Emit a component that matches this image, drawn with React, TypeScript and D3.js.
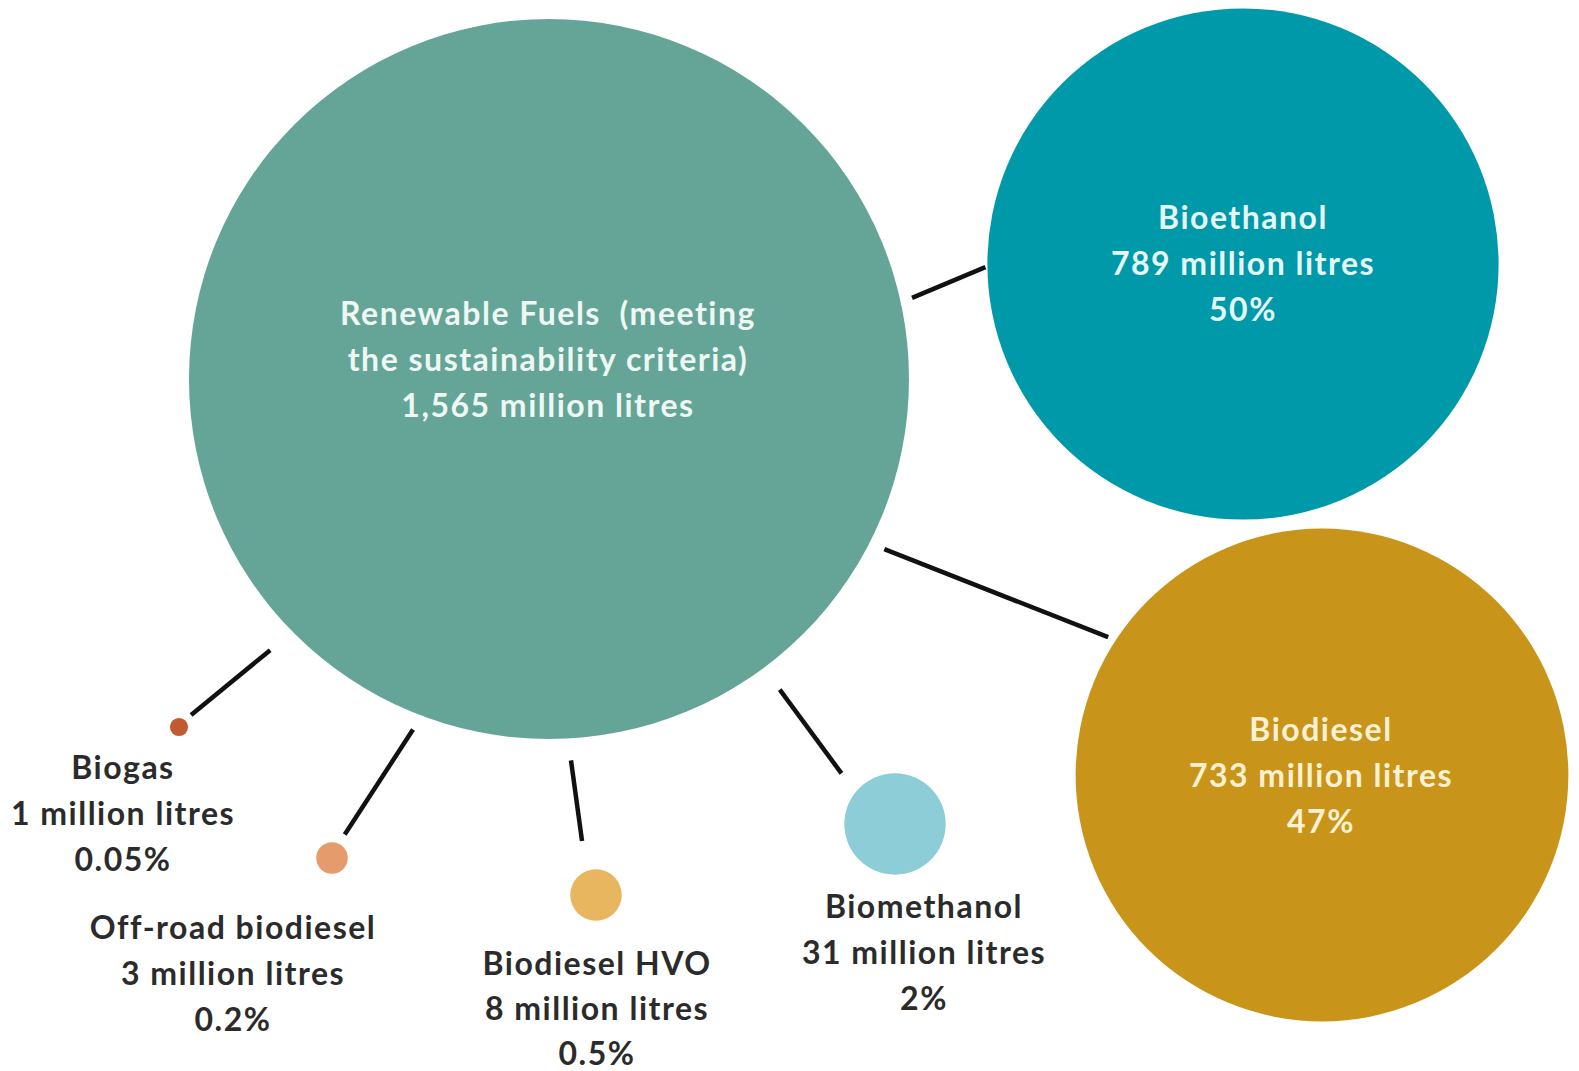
import React from "react";
import * as d3 from "d3";

// ---- data ----
const fuelNames = [
  "Renewable Fuels  (meeting the sustainability criteria)",
  "Bioethanol",
  "Biodiesel",
  "Biomethanol",
  "Biodiesel HVO",
  "Off-road biodiesel",
  "Biogas",
];
const fuelLitres = [1565, 789, 733, 31, 8, 3, 1];
const shareLabels = ["", "50%", "47%", "2%", "0.5%", "0.2%", "0.05%"];
const nameLines = [
  ["Renewable Fuels  (meeting", "the sustainability criteria)"],
  ["Bioethanol"],
  ["Biodiesel"],
  ["Biomethanol"],
  ["Biodiesel HVO"],
  ["Off-road biodiesel"],
  ["Biogas"],
];
const parentIndex = [-1, 0, 0, 0, 0, 0, 0];

// ---- layout / style ----
const W = 1579;
const H = 1071;
const layout = [
  { cx: 549, cy: 379, fill: "#64a597", text: "#eef7f3", lx: 548, ly: 312, lh: 46 },
  { cx: 1243, cy: 264, fill: "#0099a9", text: "#e6f7f7", lx: 1243, ly: 216, lh: 46 },
  { cx: 1322, cy: 775, fill: "#c9941a", text: "#fcf1d2", lx: 1321, ly: 728, lh: 46 },
  { cx: 895, cy: 824, fill: "#8dcdd8", text: "#2b2b2b", lx: 924, ly: 905, lh: 46 },
  { cx: 596, cy: 895, fill: "#e9b660", text: "#2b2b2b", lx: 597, ly: 962, lh: 45 },
  { cx: 332, cy: 858, fill: "#e59b6b", text: "#2b2b2b", lx: 233, ly: 926, lh: 46 },
  { cx: 179, cy: 727, fill: "#c25a30", text: "#2b2b2b", lx: 123, ly: 766, lh: 46 },
];
// connector geometry: angle (deg) on parent / child circle and gap beyond the rim
const connectorLayout = [
  null,
  { a0: -12.6, g0: 12, a1: 179.3, g1: 2 },
  { a0: 26.9, g0: 16, a1: -147.2, g1: 8 },
  { a0: 53.4, g0: 27, a1: -136.6, g1: 23 },
  { a0: 86.7, g0: 22, a1: -104.5, g1: 30 },
  { a0: 111.2, g0: 16, a1: -61.6, g1: 11 },
  { a0: 135.8, g0: 29, a1: -45, g1: 8 },
];
const FONT = "Lato, 'Open Sans', sans-serif";
const FONT_SIZE = 32;
const LETTER_SPACING = 1.5;

export default function App() {
  const r = d3.scaleSqrt().domain([0, d3.max(fuelLitres) as number]).range([0, 360]);
  const fmt = d3.format(",");
  const rad = (d: number) => (d * Math.PI) / 180;

  const connectors = fuelNames
    .map((_, i) => {
      const p = parentIndex[i];
      const c = connectorLayout[i];
      if (p < 0 || !c) return null;
      const P = layout[p];
      const C = layout[i];
      const rp = r(fuelLitres[p]) + c.g0;
      const rc = r(fuelLitres[i]) + c.g1;
      return {
        x1: P.cx + rp * Math.cos(rad(c.a0)),
        y1: P.cy + rp * Math.sin(rad(c.a0)),
        x2: C.cx + rc * Math.cos(rad(c.a1)),
        y2: C.cy + rc * Math.sin(rad(c.a1)),
      };
    })
    .filter(Boolean) as { x1: number; y1: number; x2: number; y2: number }[];

  return (
    <svg
      width={W}
      height={H}
      viewBox={`0 0 ${W} ${H}`}
      style={{ position: "absolute", left: 0, top: 0, background: "#ffffff" }}
    >
      <rect x={0} y={0} width={W} height={H} fill="#ffffff" />
      {connectors.map((l, i) => (
        <line key={i} x1={l.x1} y1={l.y1} x2={l.x2} y2={l.y2} stroke="#111" strokeWidth={4.5} />
      ))}
      {fuelNames.map((n, i) => (
        <circle key={n} cx={layout[i].cx} cy={layout[i].cy} r={r(fuelLitres[i])} fill={layout[i].fill} />
      ))}
      {fuelNames.map((n, i) => {
        const lines = [...nameLines[i], `${fmt(fuelLitres[i])} million litres`];
        if (shareLabels[i]) lines.push(shareLabels[i]);
        return (
          <text
            key={n}
            x={layout[i].lx}
            fontFamily={FONT}
            fontWeight={700}
            fontSize={FONT_SIZE}
            letterSpacing={LETTER_SPACING}
            fill={layout[i].text}
            textAnchor="middle"
            dominantBaseline="central"
            style={{ whiteSpace: "pre" }}
          >
            {lines.map((t, j) => (
              <tspan key={j} x={layout[i].lx} y={layout[i].ly + j * layout[i].lh}>
                {t}
              </tspan>
            ))}
          </text>
        );
      })}
    </svg>
  );
}
